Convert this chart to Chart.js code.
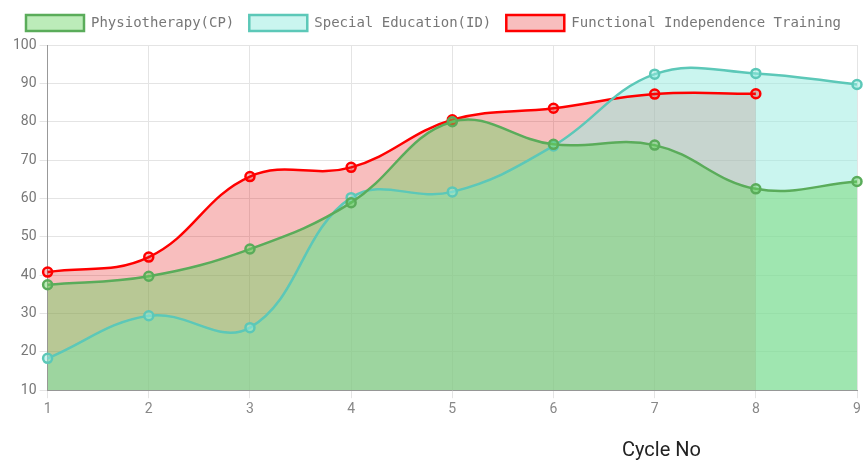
<!DOCTYPE html>
<html>
<head>
<meta charset="utf-8">
<script src="https://cdn.jsdelivr.net/npm/chart.js@4.4.1/dist/chart.umd.min.js"></script>
<style>
 body { margin: 0; background: #fff; }
 #wrap { position: relative; width: 864px; height: 467px; }
 #cycleLabel {
  position: absolute;
  left: 622px;
  top: 437px;
  font-family: Roboto, sans-serif;
  font-size: 20px;
  color: #222;
 }
</style>
</head>
<body>
<div id="wrap">
 <canvas id="cycleChart" width="864" height="467"></canvas>
 <div id="cycleLabel">Cycle No</div>
</div>
<script>
var cycles = ["1", "2", "3", "4", "5", "6", "7", "8", "9"];

var physioValues = [37.5, 39.7, 46.8, 58.9, 80.0, 74.1, 73.9, 62.5, 64.4];
var specialEdValues = [18.3, 29.4, 26.3, 60.2, 61.7, 73.7, 92.4, 92.6, 89.7];
var trainingValues = [40.8, 44.7, 65.7, 68.1, 80.5, 83.5, 87.2, 87.3];

var yTicks = [10, 20, 30, 40, 50, 60, 70, 80, 90, 100];

var chartDiv = document.getElementById("cycleChart");

// a bit more room between legend and plot
var legendGap = {
 id: "legendGap",
 beforeInit: function (chart) {
  var origFit = chart.legend.fit;
  chart.legend.fit = function () {
   origFit.call(this);
   this.height += 4;
  };
 },
};

new Chart(chartDiv, {
 type: "line",
 data: {
  labels: cycles,
  datasets: [
   {
    label: "Physiotherapy(CP)",
    data: physioValues,
    borderColor: "#5aac5a",
    backgroundColor: "rgba(107,212,99,0.45)",
    pointBackgroundColor: "rgba(107,212,99,0.45)",
    borderWidth: 2.5,
    fill: "origin",
   },
   {
    label: "Special Education(ID)",
    data: specialEdValues,
    borderColor: "#5cc8b8",
    backgroundColor: "rgba(149,236,224,0.5)",
    pointBackgroundColor: "rgba(149,236,224,0.5)",
    borderWidth: 2.5,
    fill: "origin",
   },
   {
    label: "Functional Independence Training",
    data: trainingValues,
    borderColor: "#ff0000",
    backgroundColor: "rgba(230,20,20,0.28)",
    pointBackgroundColor: "rgba(230,20,20,0.28)",
    borderWidth: 2.5,
    fill: "origin",
   },
  ],
 },
 options: {
  responsive: false,
  animation: false,
  layout: {
   padding: { left: 10, right: 7, top: 0, bottom: 46 },
  },
  elements: {
   line: { tension: 0.4 },
   point: { radius: 4.5, borderWidth: 2 },
  },
  plugins: {
   filler: { drawTime: "beforeDatasetsDraw" },
   legend: {
    labels: {
     boxWidth: 58,
     boxHeight: 16,
     padding: 15,
     color: "#777",
     font: { family: "DejaVu Sans Mono", size: 14 },
    },
   },
   tooltip: { enabled: false },
  },
  scales: {
   x: {
    grid: { color: "#e4e4e4", tickLength: 8 },
    border: { color: "#999" },
    ticks: {
     color: "#888",
     font: { family: "Roboto", size: 14 },
    },
   },
   y: {
    min: 10,
    max: 100,
    afterBuildTicks: function (axis) {
     axis.ticks = yTicks.map(function (v) {
      return { value: v };
     });
    },
    grid: { color: "#e4e4e4", tickLength: 8 },
    border: { color: "#999" },
    ticks: {
     color: "#777",
     font: { family: "Roboto", size: 14 },
    },
   },
  },
 },
 plugins: [legendGap],
});
</script>
</body>
</html>
